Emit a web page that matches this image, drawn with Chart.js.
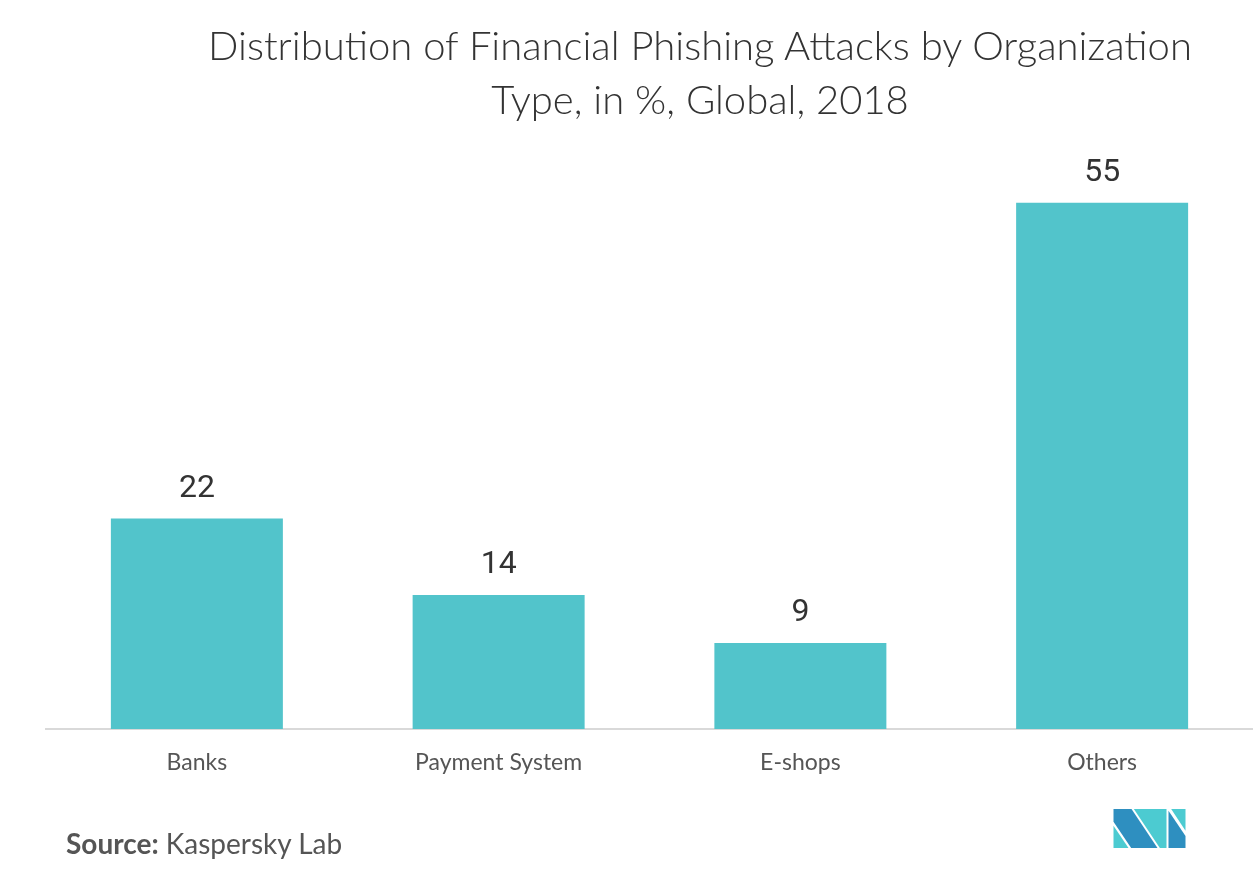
<!DOCTYPE html>
<html>
<head>
<meta charset="utf-8">
<script src="https://cdn.jsdelivr.net/npm/chart.js@4"></script>
<style>
    body { margin: 0; background: #fff; font-family: Lato, sans-serif; }
    #wrap { position: relative; width: 1253px; height: 880px; overflow: hidden; }
    #title {
        position: absolute; left: 150px; width: 1100px; top: 18px;
        text-align: center; font-size: 40px; font-weight: 300; color: #333;
        line-height: 54px;
    }
    #source { position: absolute; left: 66px; top: 826px; font-size: 28px; color: #555; }
    #logo { position: absolute; left: 1113px; top: 809px; }
    canvas { position: absolute; left: 0; top: 0; }
</style>
</head>
<body>
<div id="wrap">
    <canvas id="chart" width="1253" height="880"></canvas>
    <div id="title">Distribution of Financial Phishing Attacks by Organization<br>Type, in %, Global, 2018</div>
    <div id="source"><b>Source:</b> Kaspersky Lab</div>
    <svg id="logo" width="73" height="39" viewBox="99 57 216 117">
        <polygon points="99,57 153,57 231,174 152,174 99,95" fill="#2e8fc0"/>
        <polygon points="99,107 144,174 99,174" fill="#4ccbd1"/>
        <polygon points="160,57 258,57 258,174 238,174" fill="#4ccbd1"/>
        <polygon points="272,57 315,57 315,122" fill="#4ccbd1"/>
        <polygon points="264,62 315,138 315,174 264,174" fill="#2e8fc0"/>
    </svg>
</div>
<script>
// chart data
const categories = ['Banks', 'Payment System', 'E-shops', 'Others'];
const shares = [22, 14, 9, 55];

// draws the value above each bar
const valueLabels = {
    id: 'valueLabels',
    afterDatasetsDraw(chart) {
        const ctx = chart.ctx;
        const meta = chart.getDatasetMeta(0);
        ctx.save();
        ctx.font = '400 32px Roboto';
        ctx.fillStyle = '#333';
        ctx.textAlign = 'center';
        ctx.textBaseline = 'bottom';
        meta.data.forEach(function(bar, i) {
            ctx.fillText(shares[i], bar.x, bar.y - 14);
        });
        ctx.restore();
    }
};

const ctx = document.getElementById('chart').getContext('2d');
new Chart(ctx, {
    type: 'bar',
    data: {
        labels: categories,
        datasets: [{
            data: shares,
            backgroundColor: '#52c4cb',
            barPercentage: 0.57,
            categoryPercentage: 1
        }]
    },
    options: {
        responsive: false,
        animation: false,
        layout: { padding: { left: 46, right: 0, top: 155, bottom: 0 } },
        plugins: {
            legend: { display: false },
            tooltip: { enabled: false }
        },
        scales: {
            y: { display: false, min: 0, max: 60 },
            x: {
                grid: { display: false, drawTicks: false },
                border: { display: true, color: '#d9d9d9', width: 2 },
                ticks: {
                    color: '#555',
                    font: { family: 'Lato', size: 23 },
                    padding: 20
                },
                afterFit: function(scale) { scale.height = 151; }
            }
        }
    },
    plugins: [valueLabels]
});
</script>
</body>
</html>
